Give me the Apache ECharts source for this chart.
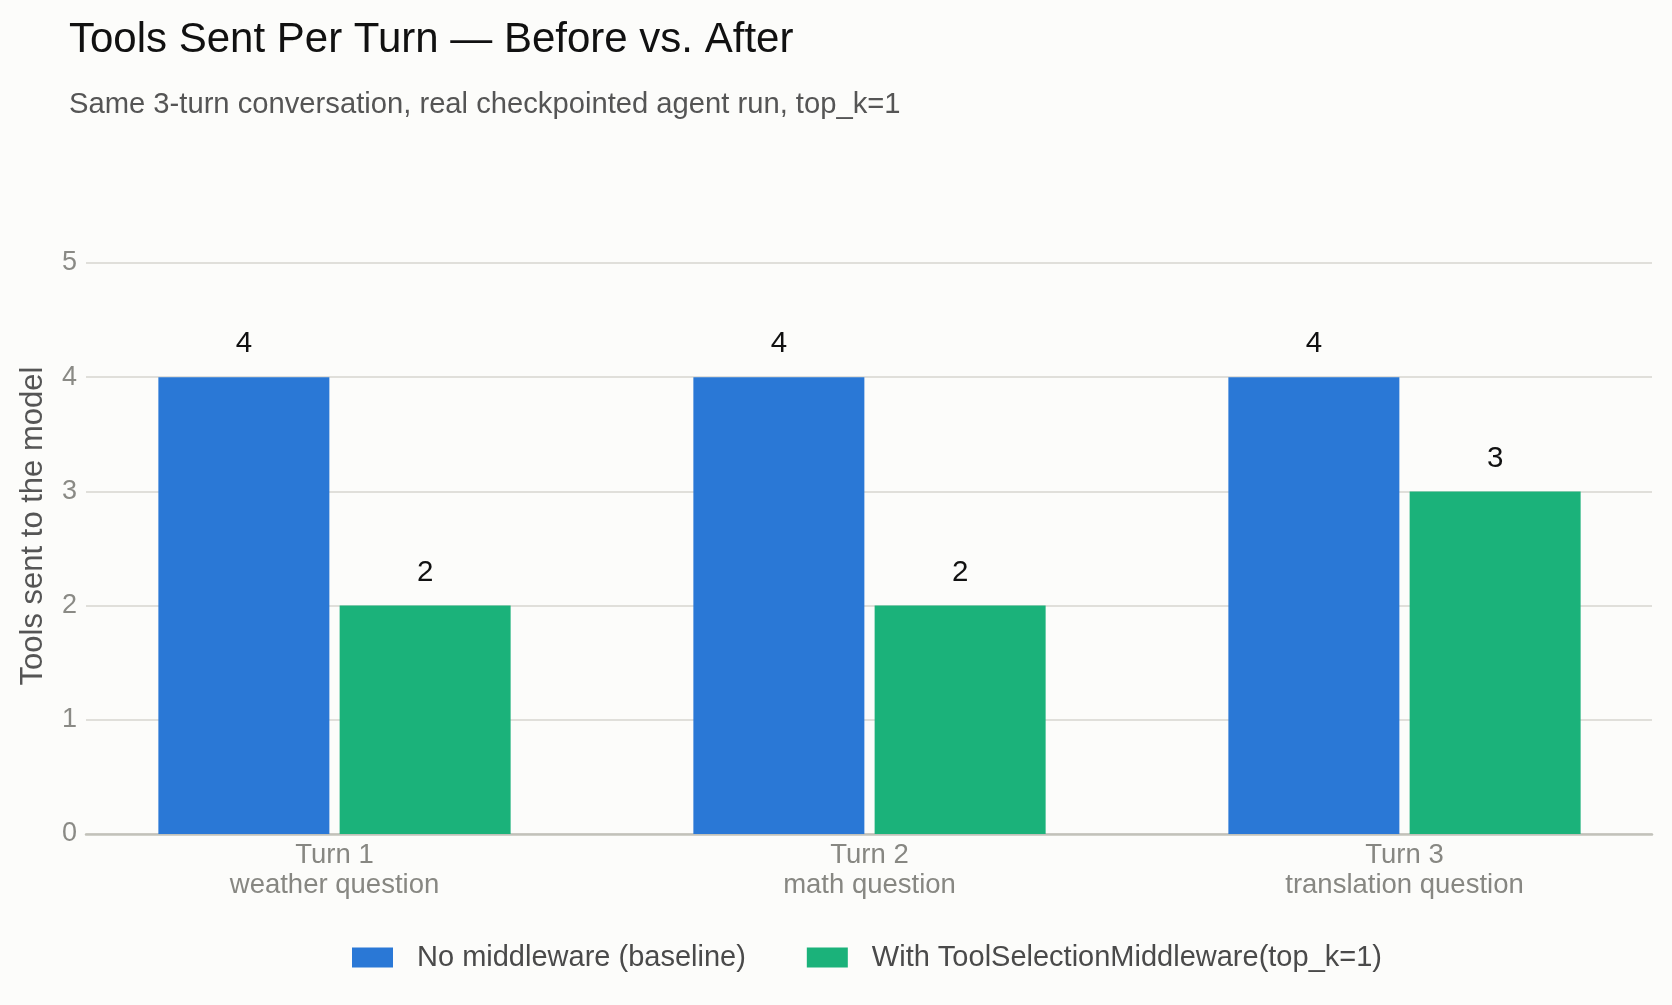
<!DOCTYPE html>
<html>
<head>
<meta charset="utf-8">
<script src="https://cdn.jsdelivr.net/npm/echarts@6/dist/echarts.min.js"></script>
<style>
html,body{margin:0;padding:0;background:#fcfcfa;}
#chart{width:1672px;height:1005px;}
</style>
</head>
<body>
<div id="chart"></div>
<script>
const categories = ['Turn 1\nweather question', 'Turn 2\nmath question', 'Turn 3\ntranslation question'];
const baselineValues = [4, 4, 4];
const middlewareValues = [2, 2, 3];
const seriesNames = ['No middleware (baseline)', 'With ToolSelectionMiddleware(top_k=1)'];
const yTicks = [0, 1, 2, 3, 4, 5];

const FONT = '"Liberation Sans", Arial, Helvetica, sans-serif';
const chart = echarts.init(document.getElementById('chart'));

const option = {
  backgroundColor: '#fcfcfa',
  animation: false,
  textStyle: { fontFamily: FONT },
  title: [
    { text: 'Tools Sent Per Turn — Before vs. After', left: 64, top: 14,
      textStyle: { fontFamily: FONT, fontSize: 42, fontWeight: 'normal', color: '#111111' } },
    { text: 'Same 3-turn conversation, real checkpointed agent run, top_k=1', left: 64, top: 85,
      textStyle: { fontFamily: FONT, fontSize: 29.2, fontWeight: 'normal', color: '#555555' } }
  ],
  legend: {
    data: seriesNames,
    left: 347, top: 938,
    icon: 'rect', itemWidth: 41, itemHeight: 20, itemGap: 61,
    textStyle: { fontFamily: FONT, fontSize: 29, color: '#4a4a4a', padding: [0, 0, 0, 19] }
  },
  grid: [
    { left: 67, right: 0, top: 263, bottom: 171 },
    { left: 86, right: 20, top: 263, bottom: 171 }
  ],
  xAxis: [
    { type: 'category', gridIndex: 0, data: categories,
      axisLine: { show: false }, axisTick: { show: false }, splitLine: { show: false },
      axisLabel: { margin: 6, fontFamily: FONT, fontSize: 27.5, lineHeight: 30, color: '#878782' } },
    { type: 'value', gridIndex: 1, min: 0, max: 1, show: true,
      axisLine: { show: true, onZero: false, lineStyle: { color: '#c2c2ba', width: 2.5 } },
      axisTick: { show: false }, axisLabel: { show: false }, splitLine: { show: false } }
  ],
  yAxis: [
    { type: 'value', gridIndex: 0, min: 0, max: 5, interval: 1, show: false },
    { type: 'value', gridIndex: 1, min: yTicks[0], max: yTicks[yTicks.length - 1], interval: 1,
      name: 'Tools sent to the model', nameLocation: 'middle', nameGap: 37,
      nameTextStyle: { fontFamily: FONT, fontSize: 31, color: '#555555', padding: [0, 0, 0, 45] },
      axisLine: { show: false }, axisTick: { show: false },
      axisLabel: { margin: 9, fontFamily: FONT, fontSize: 27, color: '#8a8a85', padding: [4, 0, 0, 0] },
      splitLine: { show: true, lineStyle: { color: '#e0dfda', width: 2 } } }
  ],
  series: [
    { name: seriesNames[0], type: 'bar', xAxisIndex: 0, yAxisIndex: 0, data: baselineValues,
      barWidth: 171, barGap: '6%', itemStyle: { color: '#2a78d6' },
      label: { show: true, position: 'top', distance: 18, fontFamily: FONT, fontSize: 29.5, color: '#111111' } },
    { name: seriesNames[1], type: 'bar', xAxisIndex: 0, yAxisIndex: 0, data: middlewareValues,
      barWidth: 171, barGap: '6%', itemStyle: { color: '#1bb27a' },
      label: { show: true, position: 'top', distance: 18, fontFamily: FONT, fontSize: 29.5, color: '#111111' } }
  ]
};
chart.setOption(option);
</script>
</body>
</html>
